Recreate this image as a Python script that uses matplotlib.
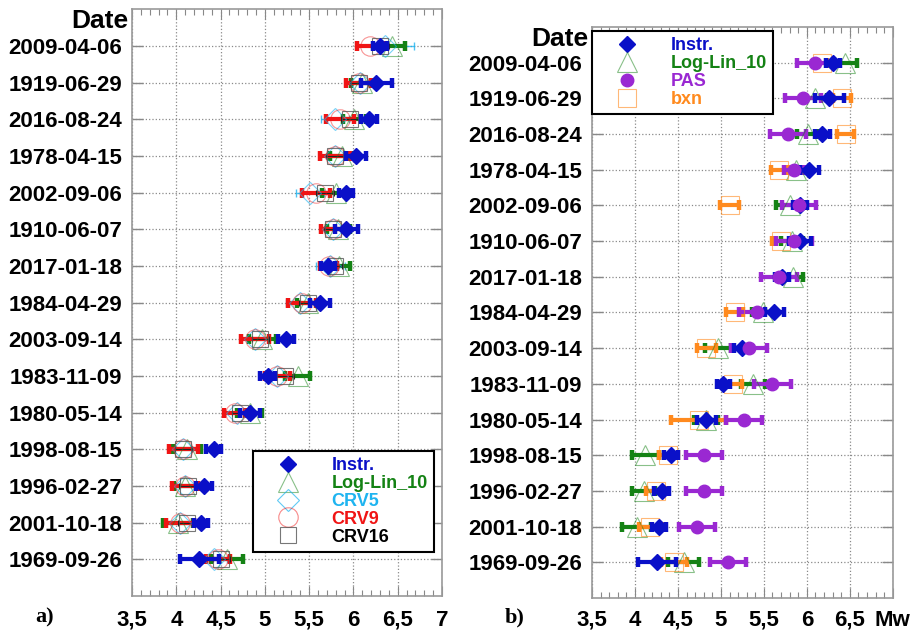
import numpy as np
import matplotlib.pyplot as plt
from matplotlib.lines import Line2D
from matplotlib.ticker import MultipleLocator

plt.rcParams['font.family'] = ['Liberation Sans', 'DejaVu Sans']
plt.rcParams['font.weight'] = 'bold'

dates = ['2009-04-06', '1919-06-29', '2016-08-24', '1978-04-15', '2002-09-06',
         '1910-06-07', '2017-01-18', '1984-04-29', '2003-09-14', '1983-11-09',
         '1980-05-14', '1998-08-15', '1996-02-27', '2001-10-18', '1969-09-26']

# magnitudes and half-widths of the error bars, one entry per date
instr = [6.30, 6.26, 6.18, 6.03, 5.92, 5.92, 5.71, 5.62, 5.24, 5.03, 4.83, 4.42, 4.31, 4.28, 4.26]
instr_err = [0.08, 0.17, 0.09, 0.11, 0.08, 0.13, 0.08, 0.11, 0.09, 0.08, 0.11, 0.08, 0.09, 0.08, 0.22]

loglin = [6.44, 6.10, 6.01, 5.87, 5.80, 5.83, 5.84, 5.49, 4.97, 5.37, 4.83, 4.12, 4.10, 4.02, 4.57]
loglin_err = [0.14, 0.13, 0.13, 0.13, 0.16, 0.13, 0.12, 0.13, 0.15, 0.14, 0.14, 0.16, 0.13, 0.17, 0.18]

crv5 = [6.36, 6.07, 5.79, 5.79, 5.51, 5.77, 5.74, 5.40, 4.89, 5.14, 4.69, 4.08, 4.10, 4.04, 4.42]
crv5_err = [0.32, 0.16, 0.16, 0.16, 0.16, 0.15, 0.16, 0.16, 0.16, 0.15, 0.14, 0.16, 0.15, 0.16, 0.15]

crv9 = [6.19, 6.06, 5.85, 5.79, 5.58, 5.77, 5.72, 5.42, 4.89, 5.14, 4.66, 4.08, 4.10, 4.04, 4.47]
crv9_err = [0.15, 0.14, 0.16, 0.17, 0.16, 0.14, 0.10, 0.16, 0.16, 0.14, 0.12, 0.16, 0.15, 0.16, 0.14]

crv16 = [6.30, 6.06, 5.96, 5.79, 5.68, 5.77, 5.79, 5.49, 4.95, 5.23, 4.72, 4.08, 4.13, 4.12, 4.51]
crv16_err = [0.10, 0.10, 0.10, 0.10, 0.10, 0.10, 0.08, 0.10, 0.10, 0.10, 0.09, 0.10, 0.10, 0.10, 0.10]

pas = [6.10, 5.96, 5.78, 5.85, 5.91, 5.85, 5.68, 5.42, 5.33, 5.60, 5.27, 4.80, 4.80, 4.72, 5.08]
pas_err = [0.21, 0.21, 0.21, 0.12, 0.20, 0.21, 0.21, 0.21, 0.21, 0.21, 0.21, 0.21, 0.21, 0.21, 0.21]

bxn = [6.18, 6.41, 6.45, 5.68, 5.10, 5.70, np.nan, 5.16, 4.83, 5.14, 4.74, 4.39, 4.24, 4.18, 4.45]
bxn_err = [0.06, 0.10, 0.10, 0.10, 0.11, 0.10, 0.0, 0.10, 0.11, 0.10, 0.32, 0.11, 0.11, 0.13, 0.15]

xticks = [3.5, 4, 4.5, 5, 5.5, 6, 6.5, 7]
xlabels_a = ['3,5', '4', '4,5', '5', '5,5', '6', '6,5', '7']
xlabels_b = ['3,5', '4', '4,5', '5', '5,5', '6', '6,5', 'Mw']

c_blue = '#0A10C8'
c_green = '#148214'
c_cyan = '#1EB4F0'
c_red = '#F01414'
c_gray = '#555555'
c_purple = '#9A28D2'
c_orange = '#FF8A1E'

rows = np.arange(1, len(dates) + 1)

fig = plt.figure(figsize=(9.17, 6.31), dpi=100)
ax1 = fig.add_axes([0.144, 0.0555, 0.338, 0.930])
ax2 = fig.add_axes([0.6456, 0.0523, 0.328, 0.905])

bar_kw = dict(fmt='none', elinewidth=3.0, capsize=3.5, capthick=3.2)


def style_axes(ax, labels, xpad):
    ax.set_xlim(3.5, 7)
    ax.set_ylim(len(dates) + 1, 0)
    ax.set_xticks(xticks)
    ax.set_xticklabels(labels, fontsize=16, fontweight='bold')
    ax.xaxis.set_minor_locator(MultipleLocator(0.1))
    ax.set_yticks(rows)
    ax.set_yticklabels(dates, fontsize=16, fontweight='bold')
    ax.tick_params(axis='x', which='major', direction='in', top=True, bottom=True,
                   length=7, width=0.8, color='#888888', pad=xpad)
    ax.tick_params(axis='x', which='minor', direction='in', top=True, bottom=True,
                   length=4, width=0.8, color='#888888')
    ax.tick_params(axis='y', direction='in', left=True, right=True,
                   length=8, width=1.0, color='#888888', pad=7)
    ax.grid(True, which='major', linestyle=':', color='#8a8a8a', linewidth=0.9)
    ax.set_axisbelow(True)
    for s in ax.spines.values():
        s.set_color('#999999')
        s.set_linewidth(1.2)
    ax.text(-0.012, 1.0, 'Date', transform=ax.transAxes, ha='right', va='top',
            fontsize=19, fontweight='bold')


style_axes(ax1, xlabels_a, 10)
style_axes(ax2, xlabels_b, 8.5)

# panel a: instrumental vs. calibration relations
ax1.errorbar(crv5, rows, xerr=crv5_err, fmt='none', ecolor=c_cyan, elinewidth=1.0,
             capsize=3, capthick=1.0, alpha=0.8)
ax1.errorbar(loglin, rows, xerr=loglin_err, ecolor=c_green, **bar_kw)
ax1.errorbar(crv9, rows, xerr=crv9_err, ecolor=c_red, **bar_kw)
ax1.errorbar(crv16, rows, xerr=crv16_err, fmt='none', ecolor='#222222', elinewidth=0.8,
             capsize=2, capthick=0.8)
ax1.plot(loglin, rows, ls='none', marker='^', ms=14, mfc='none', mec=c_green, mew=0.8, alpha=0.5)
ax1.plot(crv5, rows, ls='none', marker='D', ms=11, mfc='none', mec=c_cyan, mew=0.8, alpha=0.6)
ax1.plot(crv9, rows, ls='none', marker='o', ms=14, mfc='none', mec=c_red, mew=0.8, alpha=0.45)
ax1.plot(crv16, rows, ls='none', marker='s', ms=11, mfc='none', mec=c_gray, mew=0.8, alpha=0.8)
ax1.errorbar(instr, rows, xerr=instr_err, ecolor=c_blue, **bar_kw)
ax1.plot(instr, rows, ls='none', marker='D', ms=8, color=c_blue)

# panel b: instrumental vs. other estimates
ax2.errorbar(loglin, rows, xerr=loglin_err, ecolor=c_green, **bar_kw)
ax2.errorbar(bxn, rows, xerr=bxn_err, ecolor=c_orange, **bar_kw)
ax2.errorbar(pas, rows, xerr=pas_err, ecolor=c_purple, **bar_kw)
ax2.plot(loglin, rows, ls='none', marker='^', ms=14, mfc='none', mec=c_green, mew=0.8, alpha=0.5)
ax2.plot(bxn, rows, ls='none', marker='s', ms=13, mfc='none', mec=c_orange, mew=0.8, alpha=0.6)
ax2.errorbar(instr, rows, xerr=instr_err, ecolor=c_blue, **bar_kw)
ax2.plot(instr, rows, ls='none', marker='D', ms=8, color=c_blue)
ax2.plot(pas, rows, ls='none', marker='o', ms=9, color=c_purple)


def mk(marker, ms, filled, color, alpha=1.0):
    if filled:
        return Line2D([], [], ls='none', marker=marker, ms=ms, color=color)
    return Line2D([], [], ls='none', marker=marker, ms=ms, mfc='none', mec=color,
                  mew=0.8, alpha=alpha)


leg_kw = dict(prop={'weight': 'bold', 'size': 13}, fancybox=False,
              framealpha=1, edgecolor='black', labelspacing=0.05, borderpad=0.35,
              handlelength=3.2, handletextpad=0.8, borderaxespad=0)

handles_a = [mk('D', 8, True, c_blue), mk('^', 14, False, c_green, 0.5),
             mk('D', 11, False, c_cyan, 0.7), mk('o', 14, False, c_red, 0.5),
             mk('s', 11, False, c_gray, 0.8)]
names_a = ['Instr.', 'Log-Lin_10', 'CRV5', 'CRV9', 'CRV16']
colors_a = [c_blue, c_green, c_cyan, c_red, 'black']
leg1 = ax1.legend(handles_a, names_a, loc='lower right', bbox_to_anchor=(0.974, 0.075), **leg_kw)
leg1.get_frame().set_linewidth(1.5)
for t, c in zip(leg1.get_texts(), colors_a):
    t.set_color(c)

handles_b = [mk('D', 8, True, c_blue), mk('^', 14, False, c_green, 0.5),
             mk('o', 9, True, c_purple), mk('s', 13, False, c_orange, 0.6)]
names_b = ['Instr.', 'Log-Lin_10', 'PAS', 'bxn']
colors_b = [c_blue, c_green, c_purple, c_orange]
leg2 = ax2.legend(handles_b, names_b, loc='upper left', bbox_to_anchor=(0.0, 0.993), **leg_kw)
leg2.get_frame().set_linewidth(1.5)
for t, c in zip(leg2.get_texts(), colors_b):
    t.set_color(c)

fig.text(0.049, 0.022, 'a)', ha='center', va='center', fontsize=16,
         fontweight='bold', family='Liberation Serif')
fig.text(0.561, 0.022, 'b)', ha='center', va='center', fontsize=16,
         fontweight='bold', family='Liberation Serif')

fig.savefig('out.png', dpi=100)
